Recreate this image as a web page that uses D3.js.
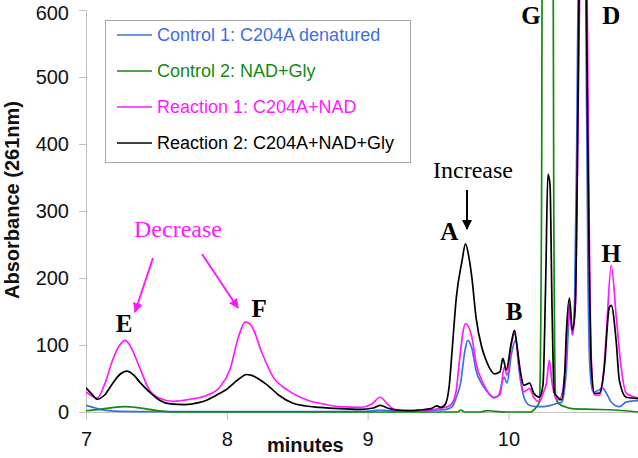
<!DOCTYPE html>
<html><head><meta charset="utf-8">
<script src="https://cdn.jsdelivr.net/npm/d3@7"></script>
<style>html,body{margin:0;padding:0;background:#fff;}svg{display:block;}</style>
</head><body>
<svg id="chart" width="638" height="458"></svg>
<script>
// ---- data (minutes, absorbance) ----
const xTicks = [7, 8, 9, 10];
const yTicks = [0, 100, 200, 300, 400, 500, 600];
const seriesNames = ["Control 1: C204A denatured", "Control 2: NAD+Gly", "Reaction 1: C204A+NAD", "Reaction 2: C204A+NAD+Gly"];
const seriesColors = ["#3d6fe6", "#128a12", "#ff1aff", "#000000"];

const control1T = [7.00,7.05,7.10,7.16,7.25,7.5,8.0,8.5,9.0,9.09,9.2,9.5,9.56,9.60,9.63,9.66,9.69,9.71,9.74,9.77,9.81,9.84,9.90,9.93,9.97,9.99,10.02,10.05,10.08,10.11,10.15,10.2,10.25,10.30,10.35,10.38,10.41,10.435,10.455,10.47,10.485,10.51,10.53,10.55,10.565,10.58,10.60,10.645,10.667,10.69,10.73,10.787,10.837,10.92];
const control1V = [10,7,4,2,1,0.5,0.5,0.5,1,3,1,3,4,8,22,43,90,107,95,62,42,33,21,25,52,43,85,107,55,22,10,8,8,10,13,15,60,150,115,170,400,1000,1200,600,200,60,30,33,36,30,15,8,15,17];

const control2T = [7.00,7.10,7.20,7.28,7.35,7.45,7.55,7.62,8.0,9.0,9.64,9.66,9.69,9.80,9.85,9.90,10.0,10.15,10.20,10.22,10.235,10.245,10.31,10.322,10.335,10.36,10.40,10.45,10.6,10.75,10.92];
const control2V = [2,4,7,8,7,4,1,0,0,0,0,3,0,0,2,1,0,0,8,15,300,1200,1200,300,22,12,8,5,4,3,0];

const reaction1T = [7.00,7.04,7.08,7.13,7.19,7.24,7.28,7.31,7.38,7.45,7.52,7.62,7.74,7.86,7.95,8.02,8.09,8.13,8.16,8.18,8.25,8.33,8.43,8.57,8.66,8.80,8.95,9.03,9.09,9.14,9.19,9.30,9.45,9.52,9.57,9.60,9.63,9.65,9.695,9.74,9.77,9.82,9.86,9.90,9.94,9.97,9.99,10.02,10.045,10.08,10.11,10.15,10.18,10.22,10.25,10.27,10.29,10.31,10.34,10.36,10.40,10.415,10.433,10.454,10.475,10.49,10.51,10.535,10.56,10.575,10.59,10.61,10.645,10.67,10.695,10.73,10.766,10.80,10.837,10.92];
const reaction1V = [30,24,21,40,78,100,107,100,67,33,21,16,19,25,37,62,117,134,132,127,88,52,33,18,13,8,7,12,22,12,4,2,3,6,8,13,33,73,132,112,73,43,28,22,26,67,55,100,117,60,30,35,22,15,30,43,77,43,20,18,55,110,160,115,160,360,700,1000,600,250,70,26,25,45,117,219,141,67,28,21];

const reaction2T = [7.00,7.04,7.08,7.13,7.19,7.24,7.29,7.34,7.38,7.45,7.52,7.60,7.70,7.80,7.86,7.95,8.00,8.05,8.09,8.14,8.17,8.23,8.30,8.37,8.47,8.56,8.66,8.80,8.95,9.04,9.09,9.14,9.20,9.30,9.37,9.45,9.49,9.52,9.55,9.58,9.60,9.63,9.67,9.695,9.72,9.74,9.77,9.81,9.84,9.87,9.90,9.94,9.96,9.985,10.02,10.043,10.06,10.08,10.11,10.15,10.18,10.22,10.245,10.265,10.28,10.295,10.31,10.325,10.35,10.376,10.40,10.411,10.433,10.454,10.475,10.489,10.505,10.53,10.55,10.56,10.574,10.589,10.61,10.645,10.681,10.716,10.73,10.766,10.787,10.837,10.92];
const reaction2V = [36,27,19,25,43,56,61,55,45,30,18,12,11,14,18,28,34,43,50,56,55,49,38,25,13,9,7,5,4,6,10,6,3,2,3,5,9,7,11,40,92,171,225,251,230,201,141,97,78,64,57,60,80,63,103,122,100,67,40,43,28,22,40,200,355,340,150,30,22,18,60,117,170,122,160,365,700,1000,700,464,216,67,28,28,67,156,159,103,48,22,20];

// annotation texts
const peakLabels = [["E",7.27,332],["F",8.23,317],["A",9.58,240],["B",10.04,320],["G",10.16,24],["D",10.73,24],["H",10.73,262]];

// ---- layout ----
const svg = d3.select("#chart");
const x = d3.scaleLinear().domain([7, 10.92]).range([86, 638]);
const y = d3.scaleLinear().domain([0, 600]).range([412, 10]);

svg.append("defs").append("clipPath").attr("id","clip")
  .append("rect").attr("x",86).attr("y",0).attr("width",552).attr("height",413);

// axes
const xAxis = svg.append("g").attr("transform","translate(0,412)")
  .call(d3.axisBottom(x).tickValues(xTicks).tickSize(8).tickPadding(12).tickFormat(d3.format("d")));
const yAxis = svg.append("g").attr("transform","translate(86,0)")
  .call(d3.axisLeft(y).tickValues(yTicks).tickSize(7).tickPadding(10));
[xAxis,yAxis].forEach(g=>{
  g.select(".domain").attr("stroke","#c0c0c0");
  g.selectAll(".tick line").attr("stroke","#c0c0c0");
  g.selectAll(".tick text").attr("font-family","'Liberation Sans', Arial, sans-serif").attr("font-size",20).attr("fill","#111");
});
yAxis.selectAll(".tick text").filter(d=>d===600).attr("dy","0.45em");

// series
const series = [
  {t:control1T, v:control1V},
  {t:control2T, v:control2V},
  {t:reaction1T, v:reaction1V},
  {t:reaction2T, v:reaction2V}
];
const line = d3.line().x(d=>x(d[0])).y(d=>y(d[1])).curve(d3.curveMonotoneX);
const plot = svg.append("g").attr("clip-path","url(#clip)");
series.forEach((s,i)=>{
  plot.append("path").datum(s.t.map((t,j)=>[t,s.v[j]]))
    .attr("fill","none").attr("stroke",seriesColors[i]).attr("stroke-width",1.7)
    .attr("stroke-linejoin","round").attr("d",line);
});

// axis titles
svg.append("text").attr("transform","translate(19,200) rotate(-90)")
  .attr("text-anchor","middle").attr("font-family","'Liberation Sans', Arial, sans-serif")
  .attr("font-weight","bold").attr("font-size",20).attr("fill","#111").text("Absorbance (261nm)");
svg.append("text").attr("x",267).attr("y",452)
  .attr("font-family","'Liberation Sans', Arial, sans-serif")
  .attr("font-weight","bold").attr("font-size",20).attr("fill","#111").text("minutes");

// legend
const lg = svg.append("g");
lg.append("rect").attr("x",105.5).attr("y",20.5).attr("width",305).attr("height",142)
  .attr("fill","#fff").attr("stroke","#a8a8a8");
seriesNames.forEach((n,i)=>{
  const yy = 35 + i*36;
  lg.append("line").attr("x1",117).attr("x2",152).attr("y1",yy).attr("y2",yy)
    .attr("stroke",seriesColors[i]).attr("stroke-width",1.7);
  lg.append("text").attr("x",157).attr("y",yy).attr("dy","0.35em")
    .attr("font-family","'Liberation Sans', Arial, sans-serif").attr("font-size",18)
    .attr("fill",seriesColors[i]).text(n);
});

// annotations
const serif = "'Liberation Serif', 'Times New Roman', serif";
svg.append("defs").html(
  '<marker id="mh" viewBox="0 0 10 10" refX="9" refY="5" markerWidth="5" markerHeight="5" orient="auto"><path d="M0,0L10,5L0,10z" fill="#ff1aff"/></marker>'+
  '<marker id="kh" viewBox="0 0 10 10" refX="9" refY="5" markerWidth="5" markerHeight="5" orient="auto"><path d="M0,0L10,5L0,10z" fill="#000"/></marker>');
svg.append("text").attr("x",178).attr("y",237).attr("text-anchor","middle")
  .attr("font-family",serif).attr("font-size",24).attr("fill","#ff1aff").text("Decrease");
svg.append("line").attr("x1",153).attr("y1",258).attr("x2",135).attr("y2",312)
  .attr("stroke","#ff1aff").attr("stroke-width",2).attr("marker-end","url(#mh)");
svg.append("line").attr("x1",202).attr("y1",254).attr("x2",238).attr("y2",308)
  .attr("stroke","#ff1aff").attr("stroke-width",2).attr("marker-end","url(#mh)");
svg.append("text").attr("x",473).attr("y",178).attr("text-anchor","middle")
  .attr("font-family",serif).attr("font-size",24).attr("fill","#000").text("Increase");
svg.append("line").attr("x1",467).attr("y1",190).attr("x2",467).attr("y2",229)
  .attr("stroke","#000").attr("stroke-width",2).attr("marker-end","url(#kh)");
peakLabels.forEach(([t,xm,yy])=>{
  svg.append("text").attr("x",x(xm)).attr("y",yy).attr("text-anchor","middle")
    .attr("font-family",serif).attr("font-weight","bold").attr("font-size",25)
    .attr("fill","#000").text(t);
});
</script>
</body></html>
